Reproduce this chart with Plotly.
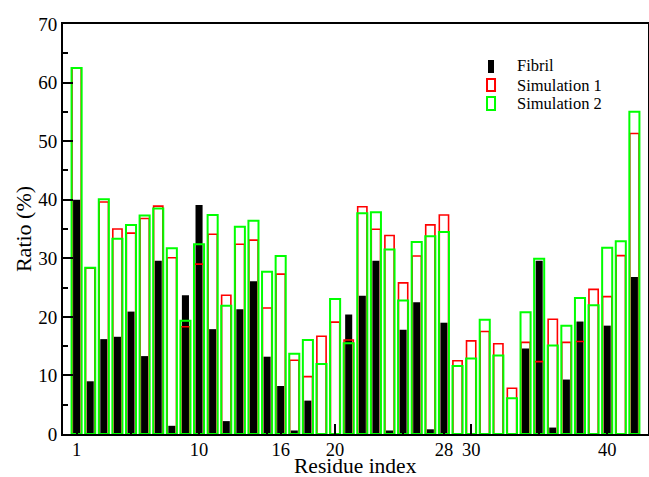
import plotly.graph_objects as go

residues = list(range(1, 43))
fibril = [40.0, 9.0, 16.2, 16.6, 20.9, 13.3, 29.6, 1.4, 23.7, 39.1,
          17.9, 2.2, 21.3, 26.1, 13.2, 8.2, 0.6, 5.7, 0.0, 0.0,
          20.4, 23.6, 29.6, 0.6, 17.8, 22.5, 0.8, 19.0, 0.0, 0.0,
          0.0, 0.0, 0.0, 14.6, 29.6, 1.1, 9.3, 19.2, 0.0, 18.5,
          0.0, 26.8]
sim1 = [62.5, 28.3, 39.6, 35.0, 34.3, 36.8, 38.9, 30.1, 18.3, 29.0,
        34.1, 23.7, 32.4, 33.1, 21.5, 27.3, 12.6, 9.8, 16.7, 19.1,
        16.05, 38.8, 34.95, 33.9, 25.8, 30.4, 35.7, 37.4, 12.5, 15.9,
        17.5, 15.4, 7.8, 15.65, 12.35, 19.6, 15.65, 15.8, 24.7, 23.45,
        30.45, 51.3]
sim2 = [62.5, 28.4, 40.1, 33.35, 35.7, 37.3, 38.5, 31.7, 19.35, 32.4,
        37.4, 21.9, 35.4, 36.4, 27.7, 30.4, 13.7, 16.05, 11.95, 23.05,
        15.5, 37.7, 37.85, 31.5, 22.8, 32.8, 33.75, 34.5, 11.6, 12.9,
        19.5, 13.4, 6.1, 20.8, 29.9, 15.1, 18.5, 23.2, 22.0, 31.8,
        32.9, 55.0]

series_names = ["Fibril", "Simulation 1", "Simulation 2"]
x_tickvals = [1, 10, 16, 20, 28, 30, 40]
x_minor = [5, 15, 25, 35]
x_range = [0, 43]
y_range = [0, 70]
x_title = "Residue index"
y_title = "Ratio (%)"

FONT = "Liberation Serif, Times New Roman, serif"
RED = "#ff0000"
GREEN = "#00ff00"

fig = go.Figure()
fig.add_trace(go.Bar(x=residues, y=fibril, name=series_names[0], width=0.52,
                     marker=dict(color="black", line=dict(width=0))))
fig.add_trace(go.Bar(x=residues, y=sim1, name=series_names[1], width=0.68,
                     marker=dict(color="rgba(0,0,0,0)", line=dict(color=RED, width=1.6))))
fig.add_trace(go.Bar(x=residues, y=sim2, name=series_names[2], width=0.74,
                     marker=dict(color="rgba(0,0,0,0)", line=dict(color=GREEN, width=2))))

tick_common = dict(ticks="inside", ticklen=10, tickwidth=1.5, tickcolor="black",
                   showgrid=False, zeroline=False, automargin=False)

fig.update_layout(
    width=649, height=477,
    margin=dict(l=63, r=1, t=24, b=43),
    barmode="overlay",
    plot_bgcolor="white", paper_bgcolor="white",
    font=dict(family=FONT, color="black", size=19),
    showlegend=False,
    xaxis=dict(range=x_range, tickmode="array", tickvals=x_tickvals,
               showline=True, linecolor="black", linewidth=2, mirror=True,
               minor=dict(tickmode="array", tickvals=x_minor, ticks="inside",
                          ticklen=5, tickwidth=1.5, tickcolor="black"),
               ticklabelstandoff=-2,
               tickfont=dict(family=FONT, size=18.5), **tick_common),
    yaxis=dict(range=y_range, dtick=10, tick0=0,
               showline=True, linecolor="black", linewidth=2, mirror=True,
               minor=dict(dtick=5, ticks="inside", ticklen=5, tickwidth=1.5, tickcolor="black"),
               title=dict(text=y_title, font=dict(family=FONT, size=22), standoff=1),
               tickfont=dict(family=FONT, size=19), **tick_common),
    xaxis2=dict(range=x_range, overlaying="x", side="top", anchor="y",
                tickmode="array", tickvals=x_tickvals, showticklabels=False,
                minor=dict(tickmode="array", tickvals=x_minor, ticks="inside",
                           ticklen=5, tickwidth=1.5, tickcolor="black"),
                **tick_common),
    yaxis2=dict(range=y_range, overlaying="y", side="right", anchor="x",
                dtick=10, tick0=0, showticklabels=False,
                minor=dict(dtick=5, ticks="inside", ticklen=5, tickwidth=1.5, tickcolor="black"),
                **tick_common),
)

# x-axis title placed explicitly below the tick labels
fig.add_annotation(xref="paper", yref="paper", x=0.5, y=-0.0780, text=x_title,
                   showarrow=False, xanchor="center", yanchor="middle", borderpad=0,
                   font=dict(family=FONT, size=21.5, color="black"))

# Manual legend (compact spacing like the original)
legend_items = [
    dict(name=series_names[0], fill="black", line="black", lw=0, x0=0.7265, x1=0.7368, y0=0.8805, y1=0.9122, ty=0.8976),
    dict(name=series_names[1], fill="rgba(0,0,0,0)", line=RED, lw=2, x0=0.7248, x1=0.7385, y0=0.8366, y1=0.8659, ty=0.8512),
    dict(name=series_names[2], fill="rgba(0,0,0,0)", line=GREEN, lw=2, x0=0.7248, x1=0.7385, y0=0.7902, y1=0.8220, ty=0.8073),
]
for it in legend_items:
    fig.add_shape(type="rect", xref="paper", yref="paper",
                  x0=it["x0"], x1=it["x1"], y0=it["y0"], y1=it["y1"],
                  fillcolor=it["fill"], line=dict(color=it["line"], width=it["lw"]))
    fig.add_annotation(xref="paper", yref="paper", x=0.7726, y=it["ty"],
                       text=it["name"], showarrow=False, xanchor="left", yanchor="middle",
                       font=dict(family=FONT, size=16.5, color="black"))

fig.write_html("out.html")
